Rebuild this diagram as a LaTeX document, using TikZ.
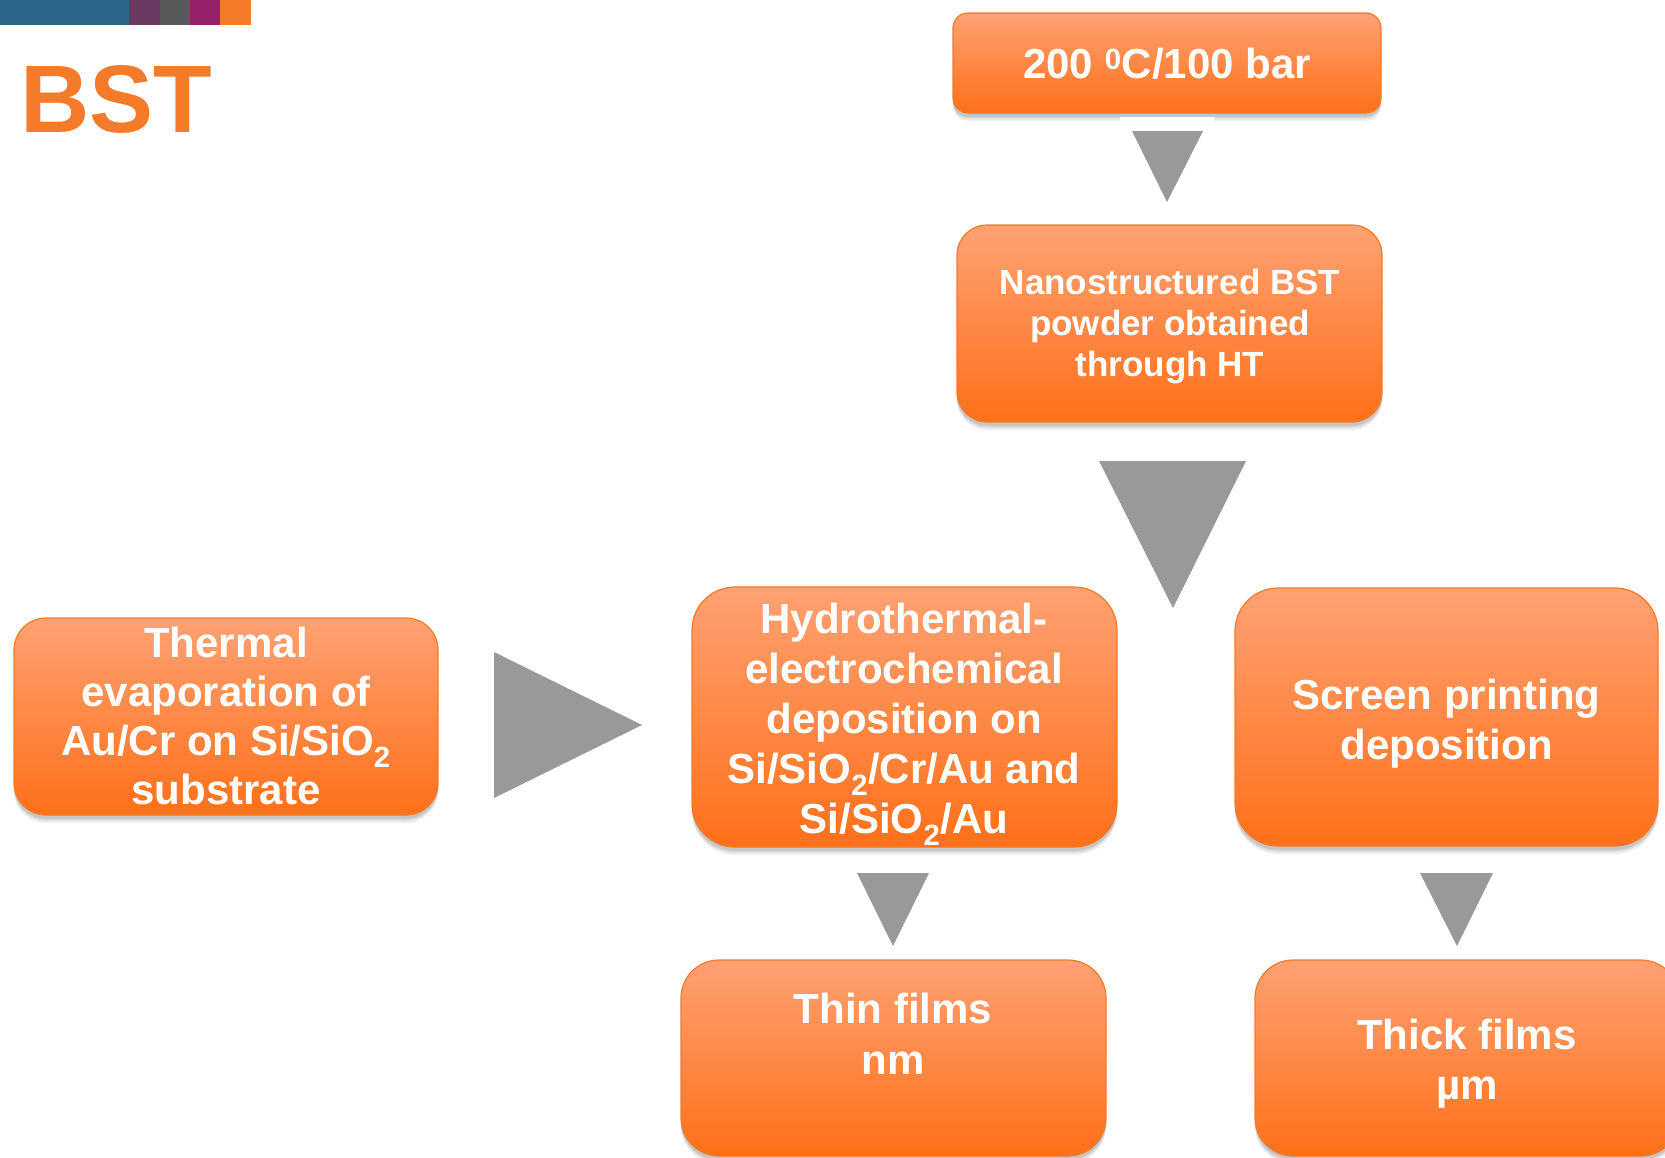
\documentclass[tikz,border=0pt]{standalone}
\usepackage{fontspec}
\setmainfont{Liberation Sans}
\usetikzlibrary{shadows}
\definecolor{boxtop}{RGB}{255,161,115}
\definecolor{boxbot}{RGB}{255,112,25}
\definecolor{boxline}{RGB}{244,122,40}
\definecolor{arrowgray}{RGB}{153,153,153}
\definecolor{bstorange}{RGB}{244,123,42}
\definecolor{barblue}{RGB}{44,101,135}
\definecolor{barpurple}{RGB}{106,58,98}
\definecolor{bargray}{RGB}{88,89,91}
\definecolor{barmagenta}{RGB}{150,32,106}
\tikzset{
  procbox/.style={draw=boxline, line width=1.2pt, top color=boxtop, bottom color=boxbot,
    inner sep=0pt,
    drop shadow={shadow xshift=0pt, shadow yshift=-8pt, opacity=0.06, fill=black},
    drop shadow={shadow xshift=0pt, shadow yshift=-6pt, opacity=0.08, fill=black},
    drop shadow={shadow xshift=0pt, shadow yshift=-4pt, opacity=0.10, fill=black}},
  boxtext/.style={text=white, font=\fontsize{42}{50}\selectfont\bfseries, align=center, inner sep=0pt},
  tri/.style={fill=arrowgray, draw=none},
}
\begin{document}
\begin{tikzpicture}[x=1pt,y=-1pt]
\useasboundingbox (0,0) rectangle (1665,1157);
\fill[white] (0,0) rectangle (1665,1157);
% top colour bar
\fill[barblue] (0,0) rectangle (129,25);
\fill[barpurple] (129,0) rectangle (160,25);
\fill[bargray] (160,0) rectangle (190,25);
\fill[barmagenta] (190,0) rectangle (220,25);
\fill[bstorange] (220,0) rectangle (251,25);
\node[anchor=base west, inner sep=0pt, text=bstorange, font=\fontsize{96}{96}\selectfont\bfseries] (title) at (20,132) {BST};

% boxes
\node[procbox, rounded corners=15pt, minimum width=428pt, minimum height=100pt] (b1) at (1167,63) {};
\node[procbox, rounded corners=30pt, minimum width=425pt, minimum height=197pt] (b2) at (1169.5,323.5) {};
\node[procbox, rounded corners=32pt, minimum width=424pt, minimum height=197pt] (b3) at (226,716.5) {};
\node[procbox, rounded corners=43pt, minimum width=425pt, minimum height=260pt] (b4) at (904.5,717) {};
\node[procbox, rounded corners=43pt, minimum width=423pt, minimum height=258pt] (b5) at (1446.5,717) {};
\node[procbox, rounded corners=38pt, minimum width=425pt, minimum height=196pt] (b6) at (893.5,1058) {};
\node[procbox, rounded corners=38pt, minimum width=424pt, minimum height=196pt] (b7) at (1467,1058) {};

\fill[white] (1120,117) rectangle (1214,124);

% texts
\node[boxtext] (t1) at (1167,64) {200 \textsuperscript{0}C/100 bar};
\node[boxtext, font=\fontsize{35}{41}\selectfont\bfseries] (t2) at (1170,327) {Nanostructured BST\\powder obtained\\through HT};
\node[boxtext, font=\fontsize{42}{49}\selectfont\bfseries] (t3) at (226,716) {Thermal\\evaporation of\\Au/Cr on Si/SiO\textsubscript{2}\\substrate};
\node[boxtext] (t4) at (904,724) {Hydrothermal-\\electrochemical\\deposition on\\Si/SiO\textsubscript{2}/Cr/Au and\\Si/SiO\textsubscript{2}/Au};
\node[boxtext] (t5) at (1446.5,724) {Screen printing\\deposition};
\node[boxtext, font=\fontsize{42}{51}\selectfont\bfseries] (t6) at (893,1034) {Thin films\\nm};
\node[boxtext] (t7) at (1467,1064) {Thick films\\µm};

% arrow triangles
\fill[tri] (1132,131) -- (1203,131) -- (1167,202) -- cycle;
\fill[tri] (1099,461) -- (1246,461) -- (1173,608) -- cycle;
\fill[tri] (494,652) -- (642,725) -- (494,798) -- cycle;
\fill[tri] (857,873) -- (929,873) -- (893,946) -- cycle;
\fill[tri] (1420,873) -- (1493,873) -- (1457,946) -- cycle;
\end{tikzpicture}
\end{document}
